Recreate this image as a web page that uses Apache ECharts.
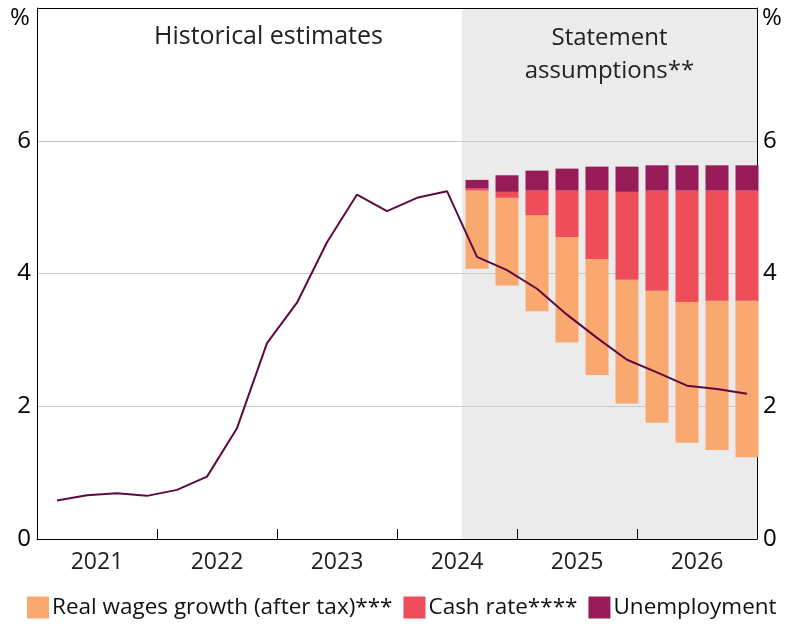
<!DOCTYPE html>
<html>
<head>
<meta charset="utf-8">
<script src="https://cdn.jsdelivr.net/npm/echarts@6/dist/echarts.min.js"></script>
<style>
  html, body { margin: 0; padding: 0; background: #fff; }
  #chart { width: 785px; height: 624px; }
</style>
</head>
<body>
<div id="chart"></div>
<script>
// year labels along the bottom axis
var years = ['2021', '2022', '2023', '2024', '2025', '2026'];

// months since Jan 2021 for each quarter (last month of the quarter)
var lineMonths = [2, 5, 8, 11, 14, 17, 20, 23, 26, 29, 32, 35, 38, 41,
                  44, 47, 50, 53, 56, 59, 62, 65, 68, 71];
var lineValues = [0.58, 0.66, 0.69, 0.65, 0.74, 0.94, 1.67, 2.95, 3.56, 4.47, 5.19, 4.94, 5.14, 5.24,
                  4.25, 4.05, 3.77, 3.38, 3.03, 2.70, 2.51, 2.31, 2.26, 2.19];

// assumption bars (Sep 2024 .. Dec 2026)
var barMonths = [44, 47, 50, 53, 56, 59, 62, 65, 68, 71];
var wagesLow = [4.07, 3.82, 3.43, 2.96, 2.47, 2.04, 1.75, 1.45, 1.34, 1.23];
var wagesHigh = [5.25, 5.14, 4.88, 4.55, 4.22, 3.905, 3.74, 3.57, 3.59, 3.59];
var cashTop = [5.28, 5.23, 5.25, 5.25, 5.25, 5.23, 5.25, 5.25, 5.25, 5.25];
var unempTop = [5.41, 5.48, 5.55, 5.58, 5.61, 5.61, 5.63, 5.63, 5.63, 5.63];

// start of the shaded assumption period (months since Jan 2021)
var assumeStart = 42.5;

var FONT = 'Open Sans';

// data axis runs in half-month steps from Jan 2021 to Jan 2027
var STEPS = 2;
var slots = [];
for (var s = 0; s <= 72 * STEPS; s++) {
    slots.push(String(s));
}

function pairs(months, ys) {
    var out = [];
    for (var i = 0; i < months.length; i++) {
        out.push([months[i] * STEPS, ys[i]]);
    }
    return out;
}

function diffs(top, bottom) {
    var out = [];
    for (var i = 0; i < top.length; i++) {
        out.push(+(top[i] - bottom[i]).toFixed(3));
    }
    return out;
}

var chart = echarts.init(document.getElementById('chart'), null, {renderer: 'canvas'});

var yAxisBase = {
    type: 'value',
    min: 0,
    max: 8,
    interval: 2,
    axisLine: {show: true, lineStyle: {color: '#000', width: 1}},
    axisTick: {show: false},
    axisLabel: {
        color: '#000',
        fontFamily: FONT,
        fontSize: 24,
        margin: 6,
        formatter: function (v) { return v === 8 ? '' : String(v); }
    }
};

var options = {
    animation: false,
    textStyle: {fontFamily: FONT},
    grid: {left: 37, right: 28, top: 8, bottom: 85, containLabel: false},
    legend: {
        data: ['Real wages growth (after tax)***', 'Cash rate****', 'Unemployment'],
        bottom: 0,
        left: 22,
        icon: 'rect',
        itemWidth: 22,
        itemHeight: 22,
        itemGap: 11,
        textStyle: {fontFamily: FONT, fontSize: 22.5, color: '#111', padding: [0, 0, 0, -2]}
    },
    xAxis: [
        {
            type: 'category',
            data: years,
            position: 'bottom',
            boundaryGap: true,
            axisLine: {show: true, lineStyle: {color: '#000', width: 1}},
            axisTick: {show: true, inside: true, length: 10, interval: 0, lineStyle: {color: '#000'}},
            axisLabel: {color: '#222', fontFamily: FONT, fontSize: 23, margin: 12, interval: 0},
            splitLine: {show: false}
        },
        {
            type: 'category',
            data: slots,
            boundaryGap: false,
            position: 'bottom',
            show: false
        }
    ],
    yAxis: [
        Object.assign({}, yAxisBase, {
            position: 'left',
            splitLine: {
                show: true,
                lineStyle: {color: ['#000', '#c8c8c8', '#c8c8c8', '#c8c8c8', '#000'], width: 1}
            }
        }),
        Object.assign({}, yAxisBase, {
            position: 'right',
            splitLine: {show: false}
        })
    ],
    graphic: [
        {type: 'text', left: 10, top: 6, style: {text: '%', fontFamily: FONT, fontSize: 24, fill: '#000'}},
        {type: 'text', left: 762, top: 6, style: {text: '%', fontFamily: FONT, fontSize: 24, fill: '#000'}},
        {type: 'text', left: 154, top: 24, style: {text: 'Historical estimates', fontFamily: FONT, fontSize: 25, fill: '#222'}}
    ],
    series: [
        {
            name: 'base',
            type: 'bar',
            xAxisIndex: 1,
            stack: 'assume',
            barWidth: 23,
            itemStyle: {color: 'transparent'},
            data: pairs(barMonths, wagesLow)
        },
        {
            name: 'Real wages growth (after tax)***',
            type: 'bar',
            xAxisIndex: 1,
            stack: 'assume',
            barWidth: 23,
            itemStyle: {color: '#f9a86f'},
            data: pairs(barMonths, diffs(wagesHigh, wagesLow))
        },
        {
            name: 'Cash rate****',
            type: 'bar',
            xAxisIndex: 1,
            stack: 'assume',
            barWidth: 23,
            itemStyle: {color: '#ef4d59'},
            data: pairs(barMonths, diffs(cashTop, wagesHigh))
        },
        {
            name: 'Unemployment',
            type: 'bar',
            xAxisIndex: 1,
            stack: 'assume',
            barWidth: 23,
            itemStyle: {color: '#971b56'},
            data: pairs(barMonths, diffs(unempTop, cashTop))
        },
        {
            name: 'Inflation',
            type: 'line',
            xAxisIndex: 1,
            z: 5,
            symbol: 'none',
            lineStyle: {color: '#5b0b3f', width: 2},
            data: pairs(lineMonths, lineValues),
            markArea: {
                silent: true,
                z: -1,
                itemStyle: {color: '#ebebeb'},
                label: {
                    show: true,
                    position: 'insideTop',
                    distance: 14,
                    color: '#222',
                    fontFamily: FONT,
                    fontSize: 24,
                    lineHeight: 33,
                    align: 'center'
                },
                data: [[{name: 'Statement\nassumptions**', xAxis: assumeStart * STEPS, yAxis: 0},
                        {xAxis: 72 * STEPS, yAxis: 8}]]
            }
        }
    ]
};

chart.setOption(options);
</script>
</body>
</html>
